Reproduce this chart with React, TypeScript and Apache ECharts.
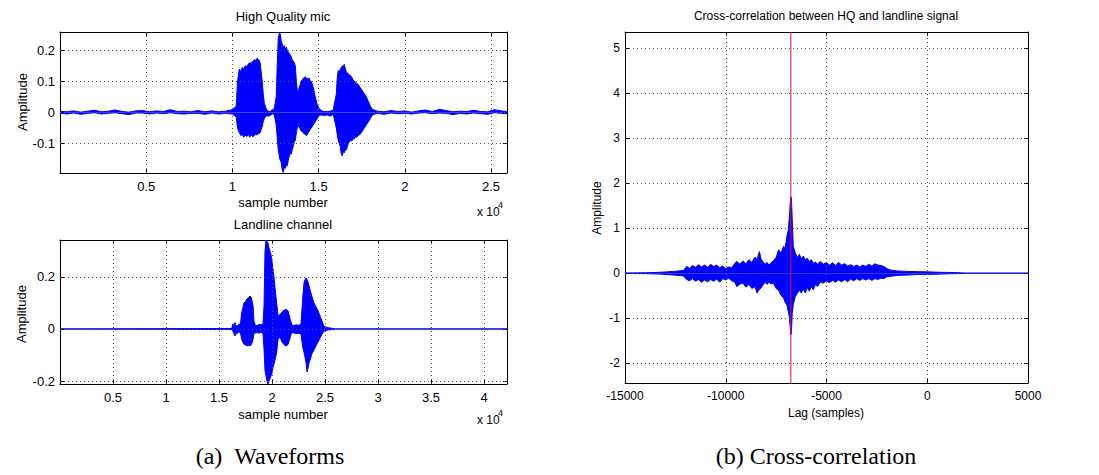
import React, { useEffect, useRef } from "react";
import * as echarts from "echarts";

// ---------- DATA ----------
// Waveform envelopes: [sample, upper envelope, lower envelope]
const hqEnvelope: [number, number, number][] = [
  [0, 0.004, -0.002], [400, 0.002, -0.005], [800, 0.005, -0.002], [1200, 0.001, -0.006],
  [1600, 0.004, -0.003], [2000, 0.007, -0.001], [2400, 0.002, -0.005], [2800, 0.004, -0.003],
  [3200, 0.008, -0.001], [3600, 0.003, -0.004], [4000, 0.001, -0.007], [4400, 0.005, -0.002],
  [4800, 0.006, -0.002], [5200, 0.002, -0.005], [5600, 0.005, -0.002], [6000, 0.003, -0.004],
  [6400, 0.009, -0.001], [6800, 0.003, -0.004], [7200, 0.004, -0.005], [7600, 0.002, -0.003],
  [8000, 0.006, -0.003], [8400, 0.002, -0.006], [8800, 0.005, -0.002], [9200, 0.002, -0.005],
  [9600, 0.004, -0.003], [10000, 0.009, -0.005],
  [10220, 0.02, -0.015], [10300, 0.1, -0.05], [10400, 0.14, -0.065], [10500, 0.13, -0.075],
  [10570, 0.145, -0.07], [10660, 0.14, -0.08], [10740, 0.15, -0.072], [10830, 0.148, -0.078],
  [10920, 0.155, -0.07], [11000, 0.16, -0.08], [11090, 0.158, -0.072], [11180, 0.165, -0.078],
  [11270, 0.17, -0.075], [11350, 0.168, -0.07], [11440, 0.175, -0.072], [11530, 0.17, -0.068],
  [11610, 0.16, -0.065], [11670, 0.13, -0.055], [11730, 0.1, -0.045], [11790, 0.06, -0.03],
  [11850, 0.03, -0.02], [11960, 0.012, -0.01], [12080, 0.004, -0.012], [12190, 0.003, -0.01],
  [12310, 0.008, -0.004], [12430, 0.012, -0.008], [12540, 0.05, -0.04], [12600, 0.15, -0.08],
  [12660, 0.24, -0.12], [12750, 0.259, -0.15], [12830, 0.232, -0.16], [12890, 0.22, -0.185],
  [12950, 0.21, -0.193], [13010, 0.215, -0.175], [13070, 0.205, -0.18], [13130, 0.21, -0.17],
  [13180, 0.2, -0.172], [13240, 0.195, -0.155], [13300, 0.19, -0.14], [13360, 0.185, -0.13],
  [13410, 0.18, -0.135], [13470, 0.17, -0.12], [13530, 0.165, -0.11], [13590, 0.16, -0.095],
  [13650, 0.15, -0.09], [13700, 0.11, -0.07], [13760, 0.07, -0.05], [13820, 0.07, -0.045],
  [13880, 0.08, -0.045], [13940, 0.09, -0.055], [13990, 0.1, -0.06], [14050, 0.105, -0.062],
  [14110, 0.11, -0.065], [14170, 0.112, -0.07], [14230, 0.115, -0.068], [14280, 0.11, -0.075],
  [14340, 0.11, -0.072], [14400, 0.108, -0.065], [14460, 0.11, -0.06], [14520, 0.1, -0.055],
  [14580, 0.1, -0.05], [14640, 0.09, -0.045], [14690, 0.08, -0.04], [14750, 0.065, -0.035],
  [14810, 0.05, -0.03], [14920, 0.025, -0.02], [15040, 0.012, -0.01], [15160, 0.006, -0.008],
  [15330, 0.003, -0.01], [15500, 0.003, -0.008], [15680, 0.004, -0.012], [15850, 0.008, -0.006],
  [16030, 0.06, -0.05], [16080, 0.11, -0.07], [16140, 0.135, -0.09], [16200, 0.13, -0.1],
  [16260, 0.14, -0.11], [16320, 0.145, -0.135], [16380, 0.15, -0.14], [16440, 0.148, -0.125],
  [16490, 0.155, -0.13], [16550, 0.14, -0.12], [16610, 0.13, -0.12], [16670, 0.128, -0.11],
  [16720, 0.125, -0.1], [16780, 0.12, -0.095], [16840, 0.12, -0.09], [16900, 0.115, -0.092],
  [16960, 0.11, -0.09], [17010, 0.105, -0.085], [17070, 0.1, -0.085], [17130, 0.098, -0.08],
  [17190, 0.095, -0.08], [17250, 0.092, -0.078], [17300, 0.09, -0.075], [17360, 0.085, -0.072],
  [17420, 0.08, -0.07], [17480, 0.075, -0.065], [17540, 0.07, -0.06], [17600, 0.065, -0.055],
  [17650, 0.06, -0.05], [17770, 0.05, -0.04], [17890, 0.035, -0.03], [18000, 0.02, -0.02],
  [18120, 0.01, -0.008],
  [18400, 0.004, -0.003], [18800, 0.002, -0.006], [19200, 0.006, -0.002], [19600, 0.003, -0.004],
  [20000, 0.005, -0.003], [20400, 0.001, -0.005], [20800, 0.005, -0.002], [21200, 0.008, -0.001],
  [21600, 0.003, -0.004], [22000, 0.01, -0.002], [22400, 0.006, -0.003], [22800, 0.002, -0.007],
  [23200, 0.004, -0.003], [23600, 0.003, -0.005], [24000, 0.007, -0.002], [24400, 0.003, -0.004],
  [24800, 0.002, -0.006], [25200, 0.009, -0.001], [25600, 0.005, -0.003], [25930, 0.003, -0.004],
];

const landlineEnvelope: [number, number, number][] = [
  [0, 0, 0], [16200, 0.002, -0.002], [16320, 0.02, -0.01], [16420, 0.003, -0.018],
  [16510, 0.025, -0.027], [16600, 0.004, -0.004], [16700, 0.015, -0.02], [16800, 0.004, -0.005],
  [16890, 0.02, -0.015], [17000, 0.01, -0.01], [17140, 0.063, -0.04], [17250, 0.08, -0.05],
  [17360, 0.1, -0.059], [17500, 0.105, -0.062], [17640, 0.115, -0.065], [17780, 0.12, -0.063],
  [17920, 0.127, -0.065], [18060, 0.12, -0.06], [18210, 0.09, -0.04], [18300, 0.03, -0.015],
  [18400, 0.016, -0.016], [18590, 0.012, -0.014], [18770, 0.018, -0.016], [18960, 0.015, -0.012],
  [19150, 0.02, -0.018], [19250, 0.09, -0.078], [19340, 0.3, -0.16], [19430, 0.342, -0.18],
  [19530, 0.335, -0.2], [19620, 0.33, -0.2115], [19720, 0.31, -0.2], [19810, 0.3, -0.19],
  [19910, 0.285, -0.18], [20000, 0.26, -0.17], [20090, 0.23, -0.15], [20190, 0.2, -0.135],
  [20280, 0.16, -0.12], [20440, 0.1, -0.09], [20570, 0.05, -0.04], [20750, 0.055, -0.03],
  [20940, 0.065, -0.05], [21130, 0.072, -0.06], [21320, 0.075, -0.065], [21510, 0.07, -0.06],
  [21700, 0.04, -0.035], [21840, 0.02, -0.015], [21980, 0.012, -0.014], [22260, 0.016, -0.018],
  [22550, 0.014, -0.016], [22740, 0.02, -0.02], [22900, 0.12, -0.07], [23020, 0.178, -0.09],
  [23120, 0.19, -0.11], [23210, 0.197, -0.13], [23310, 0.19, -0.165], [23400, 0.18, -0.15],
  [23500, 0.165, -0.13], [23590, 0.15, -0.12], [23770, 0.125, -0.095], [23960, 0.1, -0.08],
  [24150, 0.085, -0.065], [24340, 0.07, -0.05], [24530, 0.05, -0.035], [24720, 0.03, -0.02],
  [24910, 0.01, -0.008], [25280, 0.005, -0.004], [25760, 0.002, -0.002], [26000, 0, 0],
  [42170, 0, 0],
];

// Cross-correlation envelope: [lag, upper, lower]
const xcorrEnvelope: [number, number, number][] = [
  [-15000, 0.005, -0.005], [-14000, 0.01, -0.01], [-13270, 0.02, -0.02], [-12600, 0.04, -0.04],
  [-12100, 0.06, -0.06], [-11940, 0.15, -0.14], [-11800, 0.11, -0.17], [-11650, 0.17, -0.12],
  [-11500, 0.13, -0.18], [-11350, 0.19, -0.14], [-11200, 0.14, -0.2], [-11050, 0.18, -0.15],
  [-10900, 0.13, -0.19], [-10750, 0.2, -0.14], [-10600, 0.15, -0.18], [-10450, 0.18, -0.13],
  [-10300, 0.12, -0.2], [-10150, 0.16, -0.12], [-10000, 0.1, -0.15], [-9850, 0.14, -0.11],
  [-9700, 0.12, -0.17], [-9550, 0.22, -0.2], [-9450, 0.26, -0.3], [-9300, 0.2, -0.24],
  [-9150, 0.27, -0.22], [-9000, 0.21, -0.31], [-8850, 0.3, -0.25], [-8700, 0.24, -0.34],
  [-8550, 0.36, -0.3], [-8450, 0.3, -0.44], [-8330, 0.48, -0.36], [-8250, 0.32, -0.33],
  [-8150, 0.25, -0.26], [-8050, 0.2, -0.2], [-7950, 0.24, -0.25], [-7850, 0.18, -0.2],
  [-7750, 0.23, -0.24], [-7630, 0.28, -0.22], [-7500, 0.35, -0.34], [-7380, 0.52, -0.38],
  [-7250, 0.45, -0.5], [-7130, 0.6, -0.55], [-7050, 0.55, -0.65], [-6970, 0.81, -0.7],
  [-6900, 0.95, -0.85], [-6850, 1.2, -0.95], [-6800, 1.55, -1.2], [-6770, 1.7, -1.37],
  [-6740, 1.65, -1.3], [-6700, 1.2, -0.9], [-6650, 0.6, -0.7], [-6550, 0.45, -0.52],
  [-6450, 0.35, -0.45], [-6350, 0.42, -0.38], [-6250, 0.32, -0.44], [-6150, 0.38, -0.35],
  [-6050, 0.3, -0.44], [-5950, 0.33, -0.32], [-5850, 0.26, -0.4], [-5750, 0.3, -0.3],
  [-5650, 0.22, -0.37], [-5550, 0.25, -0.25], [-5450, 0.2, -0.3], [-5310, 0.26, -0.2],
  [-5150, 0.2, -0.22], [-5010, 0.24, -0.17], [-4850, 0.18, -0.21], [-4700, 0.23, -0.16],
  [-4550, 0.17, -0.2], [-4400, 0.24, -0.15], [-4250, 0.18, -0.19], [-4100, 0.21, -0.14],
  [-3950, 0.16, -0.19], [-3800, 0.19, -0.13], [-3650, 0.15, -0.17], [-3500, 0.18, -0.12],
  [-3350, 0.14, -0.16], [-3200, 0.18, -0.12], [-3050, 0.15, -0.15], [-2900, 0.2, -0.12],
  [-2750, 0.16, -0.16], [-2600, 0.21, -0.12], [-2450, 0.18, -0.14], [-2300, 0.17, -0.11],
  [-2150, 0.15, -0.12], [-2000, 0.1, -0.08], [-1830, 0.07, -0.07], [-1490, 0.05, -0.05],
  [-1000, 0.04, -0.04], [-500, 0.035, -0.03], [0, 0.03, -0.03], [660, 0.02, -0.02],
  [1320, 0.015, -0.01], [1820, 0.005, -0.005], [2000, 0, 0], [5000, 0, 0],
];
const peakLag = -6770;

// Axis ranges and ticks
const hqXRange = [0, 25930];
const hqYRange = [-0.195, 0.259];
const hqXTicks = [5000, 10000, 15000, 20000, 25000];
const hqYTicks = [-0.1, 0, 0.1, 0.2];

const llXRange = [0, 42170];
const llYRange = [-0.2115, 0.342];
const llXTicks = [5000, 10000, 15000, 20000, 25000, 30000, 35000, 40000];
const llYTicks = [-0.2, 0, 0.2];

const xcXRange = [-15000, 5000];
const xcYRange = [-2.44, 5.36];
const xcXTicks = [-15000, -10000, -5000, 0, 5000];
const xcYTicks = [-2, -1, 0, 1, 2, 3, 4, 5];

// ---------- STYLE ----------
const SANS = '"Liberation Sans", Arial, Helvetica, sans-serif';
const SERIF = '"Liberation Serif", "Times New Roman", serif';
const BLUE = "#0000ff";
const RED = "#d8103a";

function fmtNum(v: number) {
  return String(Math.round(v * 1000) / 1000);
}

function buildAxes(
  gridIndex: number,
  xr: number[],
  yr: number[],
  xt: number[],
  yt: number[],
  xFmt: (v: number) => string,
  fs: number
) {
  const line = { show: true, lineStyle: { color: "#000", width: 1 } };
  const mk = (kind: "x" | "y", pos: string, labels: boolean) => {
    const range = kind === "x" ? xr : yr;
    const ticks = kind === "x" ? xt : yt;
    return {
      type: "value",
      gridIndex,
      position: pos,
      min: range[0],
      max: range[1],
      axisLine: { ...line, onZero: false },
      axisTick: { show: true, inside: true, length: 4, customValues: ticks, lineStyle: { color: "#000" } },
      axisLabel: {
        show: labels,
        customValues: ticks,
        formatter: kind === "x" ? xFmt : fmtNum,
        fontFamily: SANS,
        fontSize: fs,
        color: "#000",
        margin: kind === "x" ? 7 : 5,
      },
      splitLine: { show: false },
    };
  };
  return {
    x: [mk("x", "bottom", true), mk("x", "top", false)],
    y: [mk("y", "left", true), mk("y", "right", false)],
  };
}

function gridSeries(xi: number, yi: number, xt: number[], yt: number[], xr: number[], yr: number[]) {
  const data: any[] = [];
  xt.filter((v) => v > xr[0] && v < xr[1]).forEach((v) => data.push({ xAxis: v }));
  yt.filter((v) => v > yr[0] && v < yr[1]).forEach((v) => data.push({ yAxis: v }));
  return {
    type: "line",
    xAxisIndex: xi,
    yAxisIndex: yi,
    data: [],
    silent: true,
    z: 1,
    markLine: {
      silent: true,
      symbol: ["none", "none"],
      label: { show: false },
      lineStyle: { color: "#555", width: 1, type: [1, 3] },
      data,
      animation: false,
    },
  };
}

function envSeries(xi: number, yi: number, env: [number, number, number][], which: 1 | 2) {
  return {
    type: "line",
    xAxisIndex: xi,
    yAxisIndex: yi,
    data: env.map((d) => [d[0], d[which]]),
    showSymbol: false,
    symbol: "none",
    silent: true,
    z: 3,
    lineStyle: { color: BLUE, width: 1 },
    areaStyle: { color: BLUE, opacity: 1, origin: 0 },
  };
}

export default function App() {
  const ref = useRef<HTMLDivElement>(null);

  useEffect(() => {
    if (!ref.current) return;
    const chart = echarts.init(ref.current, null, { renderer: "svg" });

    const a0 = buildAxes(0, hqXRange, hqYRange, hqXTicks, hqYTicks, (v) => fmtNum(v / 10000), 13);
    const a1 = buildAxes(1, llXRange, llYRange, llXTicks, llYTicks, (v) => fmtNum(v / 10000), 13);
    const a2 = buildAxes(2, xcXRange, xcYRange, xcXTicks, xcYTicks, (v) => String(v), 12);

    const t13 = `13px ${SANS}`;
    const t12 = `12px ${SANS}`;
    const text = (x: number, y: number, s: string, font: string, extra: any = {}) => ({
      type: "text",
      x,
      y,
      ...extra,
      style: { text: s, font, fill: "#000", align: "center", verticalAlign: "middle", ...(extra.style || {}) },
    });

    chart.setOption({
      animation: false,
      backgroundColor: "#fff",
      grid: [
        { left: 60, top: 32, width: 447, height: 141 },
        { left: 60, top: 240, width: 447, height: 144 },
        { left: 625, top: 32, width: 403, height: 351 },
      ],
      xAxis: [...a0.x, ...a1.x, ...a2.x],
      yAxis: [...a0.y, ...a1.y, ...a2.y],
      series: [
        gridSeries(0, 0, hqXTicks, hqYTicks, hqXRange, hqYRange),
        gridSeries(2, 2, llXTicks, llYTicks, llXRange, llYRange),
        gridSeries(4, 4, xcXTicks, xcYTicks, xcXRange, xcYRange),
        envSeries(0, 0, hqEnvelope, 1),
        envSeries(0, 0, hqEnvelope, 2),
        envSeries(2, 2, landlineEnvelope, 1),
        envSeries(2, 2, landlineEnvelope, 2),
        envSeries(4, 4, xcorrEnvelope, 1),
        envSeries(4, 4, xcorrEnvelope, 2),
        {
          type: "line",
          xAxisIndex: 4,
          yAxisIndex: 4,
          data: [
            [peakLag, xcYRange[0]],
            [peakLag, xcYRange[1]],
          ],
          showSymbol: false,
          symbol: "none",
          silent: true,
          z: 10,
          lineStyle: { color: RED, width: 1 },
        },
      ],
      graphic: [
        text(283, 16, "High Quality mic", t13),
        text(283, 202, "sample number", t13),
        text(283, 224, "Landline channel", t13),
        text(283, 414, "sample number", t13),
        text(826, 16, "Cross-correlation between HQ and landline signal", t12),
        text(826, 413, "Lag (samples)", t12),
        text(22, 102, "Amplitude", t13, { rotation: Math.PI / 2 }),
        text(21, 314, "Amplitude", t13, { rotation: Math.PI / 2 }),
        text(597, 208, "Amplitude", t12, { rotation: Math.PI / 2 }),
        text(477, 212, "x 10", t12, { style: { align: "left" } }),
        text(498, 205, "4", `9px ${SANS}`, { style: { align: "left" } }),
        text(477, 420, "x 10", t12, { style: { align: "left" } }),
        text(498, 413, "4", `9px ${SANS}`, { style: { align: "left" } }),
        text(270, 456, "(a)\u00a0\u00a0Waveforms", `24px ${SERIF}`),
        text(816, 456, "(b)\u00a0Cross-correlation", `24px ${SERIF}`),
      ],
    });

    return () => chart.dispose();
  }, []);

  return (
    <div
      ref={ref}
      style={{ position: "absolute", left: 0, top: 0, width: 1099, height: 475, background: "#fff" }}
    />
  );
}
